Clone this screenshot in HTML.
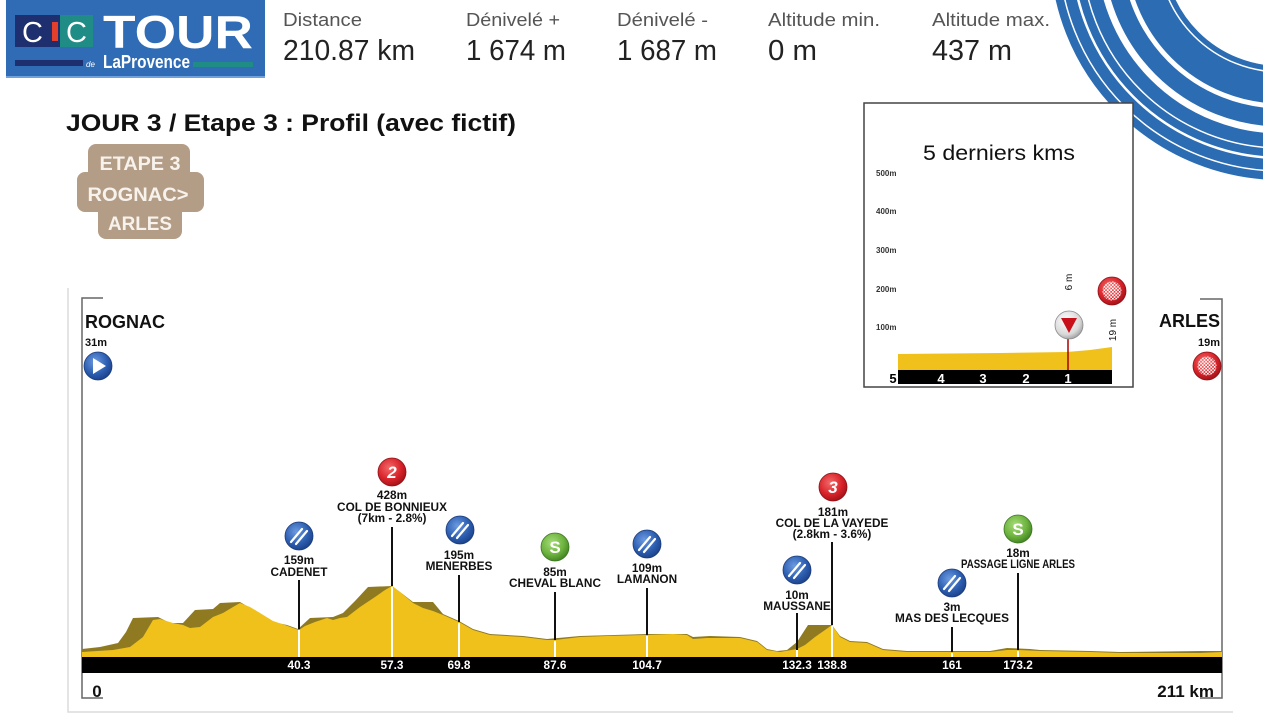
<!DOCTYPE html>
<html>
<head>
<meta charset="utf-8">
<style>
html,body{margin:0;padding:0;background:#fff;}
svg{display:block;}
text{font-family:"Liberation Sans",Arial,sans-serif;}
.lb{font-weight:bold;font-size:11.8px;fill:#111;text-anchor:middle;}
.km{font-weight:bold;font-size:11.8px;fill:#fff;text-anchor:middle;}
</style>
</head>
<body>
<svg width="1263" height="724" viewBox="0 0 1263 724" xmlns="http://www.w3.org/2000/svg">
<defs>
  <radialGradient id="gBlue" cx="40%" cy="35%" r="70%">
    <stop offset="0" stop-color="#6d9be0"/><stop offset="0.6" stop-color="#2d5fb2"/><stop offset="1" stop-color="#1a3f86"/>
  </radialGradient>
  <radialGradient id="gRed" cx="40%" cy="35%" r="70%">
    <stop offset="0" stop-color="#f26a6a"/><stop offset="0.6" stop-color="#d9232a"/><stop offset="1" stop-color="#9c1117"/>
  </radialGradient>
  <radialGradient id="gGreen" cx="40%" cy="35%" r="70%">
    <stop offset="0" stop-color="#a6dc78"/><stop offset="0.6" stop-color="#6db33f"/><stop offset="1" stop-color="#3d7f20"/>
  </radialGradient>
  <radialGradient id="gGray" cx="40%" cy="35%" r="70%">
    <stop offset="0" stop-color="#ffffff"/><stop offset="0.7" stop-color="#d8d8d8"/><stop offset="1" stop-color="#9a9a9a"/>
  </radialGradient>
  <pattern id="chk" width="3.4" height="3.4" patternUnits="userSpaceOnUse">
    <rect width="1.7" height="1.7" fill="#fff"/><rect x="1.7" y="1.7" width="1.7" height="1.7" fill="#fff"/>
  </pattern>
  <g id="icB">
    <circle r="14" fill="url(#gBlue)" stroke="#1a3a78" stroke-width="0.8"/>
    <line x1="-8" y1="6" x2="3" y2="-7" stroke="#fff" stroke-width="2.2" stroke-linecap="round"/>
    <line x1="-3" y1="8" x2="8" y2="-5" stroke="#fff" stroke-width="2.2" stroke-linecap="round"/>
  </g>
  <g id="icG">
    <circle r="14" fill="url(#gGreen)" stroke="#3a7420" stroke-width="0.8"/>
    <text x="0" y="6" text-anchor="middle" font-size="17" font-weight="bold" fill="#fff">S</text>
  </g>
  <g id="icF">
    <circle r="14" fill="url(#gRed)" stroke="#8c1015" stroke-width="0.8"/>
    <circle r="9.5" fill="url(#chk)"/>
  </g>
</defs>

<!-- outer faint frame -->
<path d="M68,288 V712 H1233" fill="none" stroke="#dcdcdc" stroke-width="1.5"/>

<!-- swirl -->
<g fill="none">
  <circle cx="1281" cy="-51" r="174" stroke="#2b6cb3" stroke-width="114"/>
  <circle cx="1281" cy="-51" r="123" stroke="#fff" stroke-width="1.5"/>
  <circle cx="1281" cy="-51" r="157" stroke="#fff" stroke-width="5"/>
  <circle cx="1281" cy="-51" r="181" stroke="#fff" stroke-width="7"/>
  <circle cx="1281" cy="-51" r="199" stroke="#fff" stroke-width="1.5"/>
  <circle cx="1281" cy="-51" r="209" stroke="#fff" stroke-width="2.5"/>
  <circle cx="1281" cy="-51" r="222" stroke="#fff" stroke-width="1.5"/>
</g>

<!-- logo -->
<rect x="6" y="0" width="259" height="78" fill="#2f6cb5"/>
<rect x="6" y="76" width="259" height="2" fill="#6fa2dc"/>
<rect x="15" y="15" width="36" height="32" fill="#1d2f6e"/>
<rect x="51" y="15" width="9" height="32" fill="#1d2f6e"/>
<rect x="52" y="22" width="6" height="19" fill="#e2402a"/>
<rect x="60" y="15" width="33" height="32" fill="#1f8d86"/>
<text x="22" y="42" font-size="29" fill="#fff" font-family="Liberation Serif,serif">C</text>
<text x="66" y="42" font-size="29" fill="#fff" font-family="Liberation Serif,serif">C</text>
<text x="103" y="48" font-size="46" font-weight="bold" fill="#fff" textLength="150" lengthAdjust="spacingAndGlyphs">TOUR</text>
<rect x="15" y="60" width="68" height="6" fill="#1d2f6e"/>
<text x="86" y="67" font-size="8" font-style="italic" fill="#fff" font-family="Liberation Serif,serif">de</text>
<text x="103" y="68" font-size="18" font-weight="bold" fill="#fff" font-family="Liberation Serif,serif" textLength="87" lengthAdjust="spacingAndGlyphs">LaProvence</text>
<rect x="193" y="62" width="60" height="5" fill="#1f8d86"/>

<!-- header stats -->
<g font-size="18" fill="#555">
  <text x="283" y="26" textLength="79" lengthAdjust="spacingAndGlyphs">Distance</text>
  <text x="466" y="26" textLength="94" lengthAdjust="spacingAndGlyphs">Dénivelé +</text>
  <text x="617" y="26" textLength="91" lengthAdjust="spacingAndGlyphs">Dénivelé -</text>
  <text x="768" y="26" textLength="112" lengthAdjust="spacingAndGlyphs">Altitude min.</text>
  <text x="932" y="26" textLength="118" lengthAdjust="spacingAndGlyphs">Altitude max.</text>
</g>
<g font-size="29" fill="#222">
  <text x="283" y="60" textLength="132" lengthAdjust="spacingAndGlyphs">210.87 km</text>
  <text x="466" y="60" textLength="100" lengthAdjust="spacingAndGlyphs">1 674 m</text>
  <text x="617" y="60" textLength="100" lengthAdjust="spacingAndGlyphs">1 687 m</text>
  <text x="768" y="60" textLength="49" lengthAdjust="spacingAndGlyphs">0 m</text>
  <text x="932" y="60" textLength="80" lengthAdjust="spacingAndGlyphs">437 m</text>
</g>

<!-- title -->
<text x="66" y="131" font-size="24" font-weight="bold" fill="#111" textLength="450" lengthAdjust="spacingAndGlyphs">JOUR 3 / Etape 3 : Profil (avec fictif)</text>

<!-- badge -->
<g fill="#b49d86">
  <rect x="88" y="144" width="102" height="42" rx="8"/>
  <rect x="77" y="172" width="127" height="40" rx="8"/>
  <rect x="98" y="198" width="84" height="41" rx="8"/>
</g>
<g font-size="19" font-weight="bold" fill="#f7f2ec" text-anchor="middle">
  <text x="140" y="170" textLength="81" lengthAdjust="spacingAndGlyphs">ETAPE 3</text>
  <text x="138" y="201" textLength="101" lengthAdjust="spacingAndGlyphs">ROGNAC&gt;</text>
  <text x="140" y="230" textLength="64" lengthAdjust="spacingAndGlyphs">ARLES</text>
</g>

<!-- inset -->
<rect x="864" y="103" width="269" height="284" fill="#fff" stroke="#444" stroke-width="1.5"/>
<text x="999" y="160" font-size="21" fill="#111" text-anchor="middle" textLength="152" lengthAdjust="spacingAndGlyphs">5 derniers kms</text>
<g font-size="8" font-weight="bold" fill="#333">
  <text x="876" y="176">500m</text>
  <text x="876" y="214">400m</text>
  <text x="876" y="253">300m</text>
  <text x="876" y="292">200m</text>
  <text x="876" y="330">100m</text>
</g>
<polygon points="898,354 1000,353 1067,352 1090,350 1112,347 1112,370 898,370" fill="#f0c11b"/>
<rect x="898" y="370" width="214" height="14" fill="#000"/>
<g font-size="13" font-weight="bold" fill="#fff" text-anchor="middle">
  <text x="941" y="383">4</text>
  <text x="983" y="383">3</text>
  <text x="1026" y="383">2</text>
  <text x="1068" y="383">1</text>
</g>
<text x="893" y="383" font-size="13" font-weight="bold" fill="#000" text-anchor="middle">5</text>
<line x1="1068" y1="338" x2="1068" y2="370" stroke="#a00" stroke-width="1.5"/>
<circle cx="1069" cy="325" r="14" fill="url(#gGray)" stroke="#8a8a8a" stroke-width="0.8"/>
<polygon points="1061,318 1077,318 1069,333" fill="#c8101a"/>
<text transform="translate(1072,282) rotate(-90)" font-size="10" fill="#111" text-anchor="middle">6 m</text>
<text transform="translate(1116,330) rotate(-90)" font-size="10" fill="#111" text-anchor="middle">19 m</text>
<use href="#icF" x="1112" y="291"/>

<!-- profile brackets -->
<path d="M103,298 H82 V698 H103" fill="none" stroke="#666" stroke-width="1.5"/>
<path d="M1200,299 H1222 V698 H1200" fill="none" stroke="#666" stroke-width="1.5"/>

<!-- dark back layer -->
<polygon fill="#8f7a22" points="82,649 100,647 118,643 126,632 133,618 158,617 170,623 183,623 195,610 213,609 220,603 240,602 257,612 273,622 287,625 298,629 310,618 333,617 343,613 355,601 368,587 392,586 400,592 413,602 433,602 443,614 459,621 473,629 490,634 523,636 547,639 580,636 647,634 687,634 693,637 710,636 740,637 757,641 767,649 777,651 787,650 797,642 808,625 832,625 840,636 850,641 867,642 883,649 907,651 990,651 1007,648 1030,649 1040,650 1090,651 1120,652 1200,651 1222,651 1222,657 82,657"/>
<!-- yellow front -->
<polygon fill="#f0c11b" points="82,652 113,650 130,647 143,637 153,620 160,619 173,623 183,625 190,628 200,627 213,617 223,613 233,607 240,603 250,607 260,613 273,621 285,625 293,628 299,630 305,626 315,622 327,618 333,620 340,618 347,617 360,607 375,597 385,590 392,586 400,592 413,603 423,608 433,611 443,615 459,622 473,630 490,635 523,637 547,640 555,640 580,637 607,636 647,635 673,634 687,635 693,639 707,638 740,638 757,642 767,650 780,652 797,649 805,645 815,637 825,630 832,625 840,637 850,642 867,643 883,650 907,652 952,652 990,652 1007,650 1018,650 1040,651 1090,652 1120,653 1200,653 1222,652 1222,657 82,657"/>

<!-- white lines in profile -->
<g stroke="#fff" stroke-width="2">
  <line x1="299" y1="630" x2="299" y2="657"/>
  <line x1="392" y1="587" x2="392" y2="657"/>
  <line x1="459" y1="623" x2="459" y2="657"/>
  <line x1="555" y1="641" x2="555" y2="657"/>
  <line x1="647" y1="636" x2="647" y2="657"/>
  <line x1="797" y1="650" x2="797" y2="657"/>
  <line x1="832" y1="626" x2="832" y2="657"/>
  <line x1="952" y1="653" x2="952" y2="657"/>
  <line x1="1018" y1="651" x2="1018" y2="657"/>
</g>

<!-- bar -->
<rect x="82" y="657" width="1140" height="16" fill="#000"/>
<g>
  <text class="km" x="299" y="669">40.3</text>
  <text class="km" x="392" y="669">57.3</text>
  <text class="km" x="459" y="669">69.8</text>
  <text class="km" x="555" y="669">87.6</text>
  <text class="km" x="647" y="669">104.7</text>
  <text class="km" x="797" y="669">132.3</text>
  <text class="km" x="832" y="669">138.8</text>
  <text class="km" x="952" y="669">161</text>
  <text class="km" x="1018" y="669">173.2</text>
</g>

<!-- poles -->
<g stroke="#111" stroke-width="2">
  <line x1="299" y1="580" x2="299" y2="629"/>
  <line x1="392" y1="527" x2="392" y2="586"/>
  <line x1="459" y1="575" x2="459" y2="622"/>
  <line x1="555" y1="592" x2="555" y2="640"/>
  <line x1="647" y1="588" x2="647" y2="635"/>
  <line x1="797" y1="613" x2="797" y2="650"/>
  <line x1="832" y1="542" x2="832" y2="625"/>
  <line x1="952" y1="627" x2="952" y2="652"/>
  <line x1="1018" y1="573" x2="1018" y2="650"/>
</g>

<!-- labels -->
<text class="lb" x="299" y="564">159m</text>
<text class="lb" x="299" y="576">CADENET</text>
<text class="lb" x="392" y="499">428m</text>
<text class="lb" x="392" y="511">COL DE BONNIEUX</text>
<text class="lb" x="392" y="522">(7km - 2.8%)</text>
<text class="lb" x="459" y="559">195m</text>
<text class="lb" x="459" y="570">MENERBES</text>
<text class="lb" x="555" y="576">85m</text>
<text class="lb" x="555" y="587">CHEVAL BLANC</text>
<text class="lb" x="647" y="572">109m</text>
<text class="lb" x="647" y="583">LAMANON</text>
<text class="lb" x="797" y="599">10m</text>
<text class="lb" x="797" y="610">MAUSSANE</text>
<text class="lb" x="833" y="516">181m</text>
<text class="lb" x="832" y="527">COL DE LA VAYEDE</text>
<text class="lb" x="832" y="538">(2.8km - 3.6%)</text>
<text class="lb" x="952" y="611">3m</text>
<text class="lb" x="952" y="622">MAS DES LECQUES</text>
<text class="lb" x="1018" y="557">18m</text>
<text class="lb" x="1018" y="568" font-size="10.5" textLength="114" lengthAdjust="spacingAndGlyphs">PASSAGE LIGNE ARLES</text>

<!-- icons -->
<use href="#icB" x="299" y="536"/>
<g transform="translate(392,472)">
  <circle r="14" fill="url(#gRed)" stroke="#8c1015" stroke-width="0.8"/>
  <text x="0" y="6" text-anchor="middle" font-size="17" font-weight="bold" font-style="italic" fill="#fff">2</text>
</g>
<use href="#icB" x="460" y="530"/>
<use href="#icG" x="555" y="547"/>
<use href="#icB" x="647" y="544"/>
<use href="#icB" x="797" y="570"/>
<g transform="translate(833,487)">
  <circle r="14" fill="url(#gRed)" stroke="#8c1015" stroke-width="0.8"/>
  <text x="0" y="6" text-anchor="middle" font-size="17" font-weight="bold" font-style="italic" fill="#fff">3</text>
</g>
<use href="#icB" x="952" y="583"/>
<use href="#icG" x="1018" y="529"/>

<!-- start / finish -->
<text x="85" y="328" font-size="18" font-weight="bold" fill="#111">ROGNAC</text>
<text x="85" y="346" font-size="11" font-weight="bold" fill="#111">31m</text>
<g transform="translate(98,366)">
  <circle r="14" fill="url(#gBlue)" stroke="#1a3a78" stroke-width="0.8"/>
  <polygon points="-5,-8 8,0 -5,8" fill="#fff"/>
</g>
<text x="1220" y="327" font-size="18" font-weight="bold" fill="#111" text-anchor="end">ARLES</text>
<text x="1220" y="346" font-size="11" font-weight="bold" fill="#111" text-anchor="end">19m</text>
<use href="#icF" x="1207" y="366"/>

<text x="97" y="697" font-size="17" font-weight="bold" fill="#111" text-anchor="middle">0</text>
<text x="1214" y="697" font-size="17" font-weight="bold" fill="#111" text-anchor="end">211 km</text>
</svg>
</body>
</html>
